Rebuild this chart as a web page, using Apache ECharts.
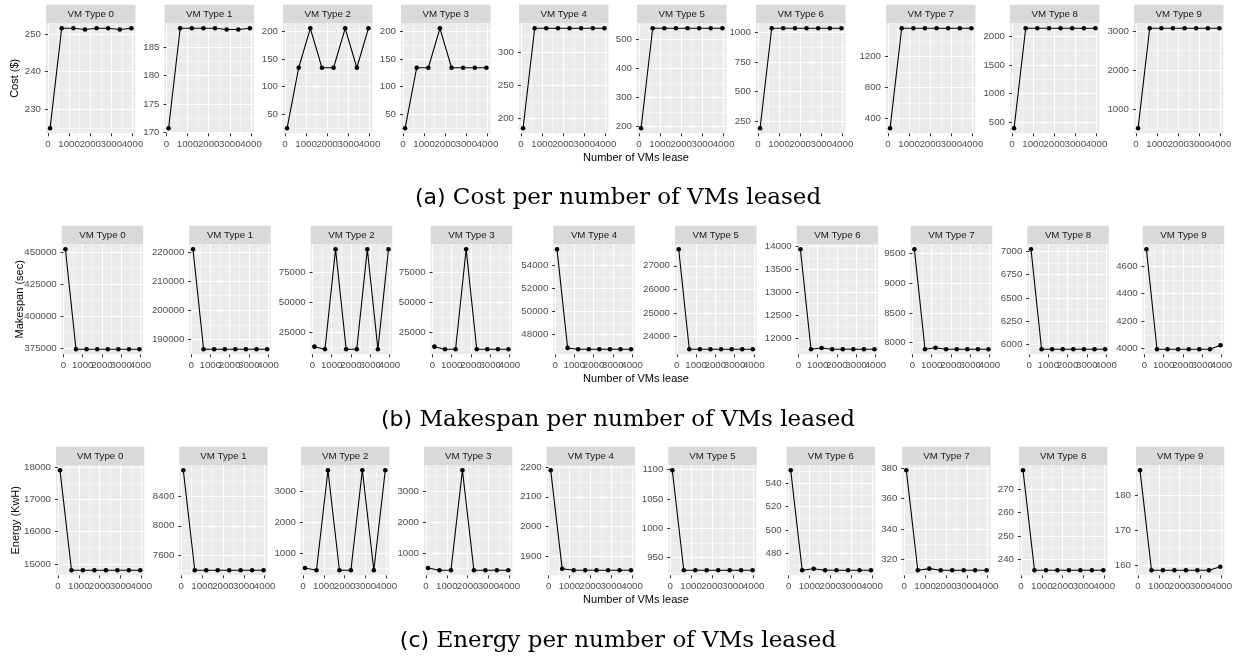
<!DOCTYPE html>
<html>
<head>
<meta charset="utf-8">
<script src="https://cdn.jsdelivr.net/npm/echarts@6/dist/echarts.min.js"></script>
<style>
  html, body { margin: 0; padding: 0; background: #fff; }
  #chart { width: 1239px; height: 660px; }
</style>
</head>
<body>
<div id="chart"></div>
<script>
// number of VMs leased (x of every panel)
const vmCounts = [100, 650, 1200, 1750, 2300, 2850, 3400, 3950];
const xTicks = [0, 1000, 2000, 3000, 4000];
const vmTypes = ['VM Type 0', 'VM Type 1', 'VM Type 2', 'VM Type 3', 'VM Type 4',
                 'VM Type 5', 'VM Type 6', 'VM Type 7', 'VM Type 8', 'VM Type 9'];

// (a) cost ($), one list per VM type
const costValues = [
  [224.9, 251.5, 251.5, 251.2, 251.5, 251.5, 251.2, 251.5],
  [170.7, 188.3, 188.3, 188.3, 188.3, 188.1, 188.1, 188.3],
  [25, 134, 205, 134, 134, 205, 134, 205],
  [25, 134, 134, 205, 134, 134, 134, 134],
  [185, 336.5, 336.5, 336.5, 336.5, 336.5, 336.5, 336.5],
  [193, 538, 538, 538, 538, 538, 538, 538],
  [191, 1034, 1034, 1034, 1034, 1034, 1034, 1034],
  [271, 1561, 1561, 1561, 1561, 1561, 1561, 1561],
  [395, 2139, 2139, 2139, 2139, 2139, 2139, 2139],
  [524, 3069, 3069, 3069, 3069, 3069, 3069, 3069],
];
const costTicks = [
  [230, 240, 250], [170, 175, 180, 185], [50, 100, 150, 200], [50, 100, 150, 200],
  [200, 250, 300], [200, 300, 400, 500], [250, 500, 750, 1000], [400, 800, 1200],
  [500, 1000, 1500, 2000], [1000, 2000, 3000],
];

// (b) makespan (sec)
const makespanValues = [
  [452300, 374200, 374200, 374200, 374200, 374200, 374200, 374200],
  [220900, 186600, 186600, 186600, 186600, 186600, 186600, 186600],
  [12900, 10700, 94500, 10700, 10700, 94500, 10700, 94500],
  [12900, 10700, 10700, 94500, 10700, 10700, 10700, 10700],
  [55400, 46820, 46700, 46700, 46700, 46700, 46700, 46700],
  [27700, 23450, 23450, 23450, 23450, 23450, 23450, 23450],
  [13935, 11757, 11785, 11757, 11757, 11757, 11757, 11757],
  [9572, 7888, 7915, 7888, 7888, 7888, 7888, 7888],
  [7025, 5943, 5943, 5943, 5943, 5943, 5943, 5943],
  [4724, 3995, 3995, 3995, 3995, 3995, 3995, 4024],
];
const makespanTicks = [
  [375000, 400000, 425000, 450000], [190000, 200000, 210000, 220000],
  [25000, 50000, 75000], [25000, 50000, 75000], [48000, 50000, 52000, 54000],
  [24000, 25000, 26000, 27000], [12000, 12500, 13000, 13500, 14000],
  [8000, 8500, 9000, 9500], [6000, 6250, 6500, 6750, 7000], [4000, 4200, 4400, 4600],
];

// (c) energy (KwH)
const energyValues = [
  [17910, 14800, 14800, 14800, 14800, 14800, 14800, 14800],
  [8752, 7396, 7396, 7396, 7396, 7396, 7396, 7396],
  [513, 438, 3670, 438, 438, 3670, 438, 3670],
  [513, 438, 438, 3670, 438, 438, 438, 438],
  [2189, 1858, 1853, 1853, 1853, 1853, 1853, 1853],
  [1099, 928, 928, 928, 928, 928, 928, 928],
  [551, 465.7, 467, 465.7, 465.7, 465.7, 465.7, 465.7],
  [378.5, 312.8, 313.9, 312.8, 312.8, 312.8, 312.8, 312.8],
  [278, 235.4, 235.4, 235.4, 235.4, 235.4, 235.4, 235.4],
  [187, 158.6, 158.6, 158.6, 158.6, 158.6, 158.6, 159.6],
];
const energyTicks = [
  [15000, 16000, 17000, 18000], [7600, 8000, 8400], [1000, 2000, 3000], [1000, 2000, 3000],
  [1900, 2000, 2100, 2200], [950, 1000, 1050, 1100], [480, 500, 520, 540],
  [320, 340, 360, 380], [240, 250, 260, 270], [160, 170, 180],
];

const STRIP_H = 18.5;
const PLOT_H = 110;
const AXIS_FONT = 'Liberation Sans';
const X_LABEL_GAP = 6;
const Y_LABEL_GAP = 5;

const rows = [
  {
    values: costValues, ticks: costTicks, yTitle: 'Cost ($)', yTitleX: 15,
    tag: '(a)', caption: ' Cost per number of VMs leased', captionY: 198,
    stripTop: 4.8, width: 89.5,
    lefts: [46, 164.5, 283, 401, 519, 637, 756, 886, 1010, 1134],
  },
  {
    values: makespanValues, ticks: makespanTicks, yTitle: 'Makespan (sec)', yTitleX: 19.5,
    tag: '(b)', caption: ' Makespan per number of VMs leased', captionY: 420,
    stripTop: 225.8, width: 81.5,
    lefts: [61.7, 189.3, 310.7, 430.7, 553.3, 675, 796.7, 910.7, 1027.3, 1142.7],
  },
  {
    values: energyValues, ticks: energyTicks, yTitle: 'Energy (KwH)', yTitleX: 16,
    tag: '(c)', caption: ' Energy per number of VMs leased', captionY: 641,
    stripTop: 446.8, width: 88.3,
    lefts: [56, 179.3, 301, 424, 546.7, 668.3, 786.7, 902.3, 1019, 1136],
  },
];

// ggplot-like minor breaks: midpoints between majors, kept inside the range
function minorBreaks(major, lo, hi) {
  const step = major[1] - major[0];
  const ext = [major[0] - step, ...major, major[major.length - 1] + step];
  const out = [];
  for (let k = 0; k < ext.length - 1; k++) {
    const m = (ext[k] + ext[k + 1]) / 2;
    if (m > lo && m < hi) out.push(m);
  }
  return out;
}

function expand(vals) {
  const lo = Math.min(...vals), hi = Math.max(...vals);
  const pad = (hi - lo) * 0.05;
  return [lo - pad, hi + pad];
}

const plain = v => String(v);

function labelStyle(values, gap) {
  return {
    show: true, customValues: values, formatter: plain, color: '#4D4D4D',
    fontSize: 9.7, fontFamily: AXIS_FONT, margin: gap,
    showMinLabel: true, showMaxLabel: true, hideOverlap: false,
  };
}

function majorAxis(g, min, max, ticks, labels, pos, gap) {
  return {
    type: 'value', gridIndex: g, min, max, position: pos,
    axisLine: { show: false },
    axisTick: { show: true, length: 3, customValues: ticks, lineStyle: { color: '#333333', width: 1 } },
    axisLabel: labelStyle(labels, gap),
    splitLine: { show: true, lineStyle: { color: '#FFFFFF', width: 1.1 } },
  };
}

function minorAxis(g, min, max, ticks, pos) {
  return {
    type: 'value', gridIndex: g, min, max, position: pos,
    axisLine: { show: false },
    axisTick: { show: false, customValues: ticks },
    axisLabel: { show: false },
    splitLine: { show: true, lineStyle: { color: '#FFFFFF', width: 0.5 } },
  };
}

// the x labels run into each other, so the odd ones sit on a second bottom axis
function labelOnlyAxis(g, min, max, labels, pos, gap) {
  return {
    type: 'value', gridIndex: g, min, max, position: pos, offset: 0,
    axisLine: { show: false },
    axisTick: { show: false, customValues: labels },
    axisLabel: labelStyle(labels, gap),
    splitLine: { show: false },
  };
}

const grids = [], xAxes = [], yAxes = [], series = [], graphics = [];
const [xMin, xMax] = expand(vmCounts);
const xMinor = minorBreaks(xTicks, xMin, xMax);
const xEvenLabels = xTicks.filter((v, k) => k % 2 === 0);
const xOddLabels = xTicks.filter((v, k) => k % 2 === 1);

rows.forEach(row => {
  const plotTop = row.stripTop + STRIP_H;
  row.values.forEach((vals, i) => {
    const g = grids.length;
    const left = row.lefts[i];
    grids.push({
      left, top: plotTop, width: row.width, height: PLOT_H,
      show: true, backgroundColor: '#EBEBEB', borderWidth: 0,
      containLabel: false, outerBoundsMode: 'none',
    });
    const [yMin, yMax] = expand(vals);
    const ticks = row.ticks[i];
    xAxes.push(majorAxis(g, xMin, xMax, xTicks, xEvenLabels, 'bottom', X_LABEL_GAP));
    xAxes.push(minorAxis(g, xMin, xMax, xMinor, 'top'));
    xAxes.push(labelOnlyAxis(g, xMin, xMax, xOddLabels, 'bottom', X_LABEL_GAP));
    yAxes.push(majorAxis(g, yMin, yMax, ticks, ticks, 'left', Y_LABEL_GAP));
    yAxes.push(minorAxis(g, yMin, yMax, minorBreaks(ticks, yMin, yMax), 'right'));
    series.push({
      type: 'line', xAxisIndex: 3 * g, yAxisIndex: 2 * g,
      data: vmCounts.map((x, k) => [x, vals[k]]),
      symbol: 'circle', symbolSize: 4.6, showSymbol: true,
      lineStyle: { color: '#000000', width: 1.1 },
      itemStyle: { color: '#000000' },
      silent: true, z: 3,
    });
    // facet strip
    graphics.push({
      type: 'rect', silent: true,
      shape: { x: left, y: row.stripTop, width: row.width, height: STRIP_H },
      style: { fill: '#D9D9D9' },
    });
    graphics.push({
      type: 'text', silent: true,
      x: left + row.width / 2, y: row.stripTop + STRIP_H / 2 + 0.5,
      style: {
        text: vmTypes[i], fill: '#1A1A1A', fontSize: 9.7, fontFamily: AXIS_FONT,
        align: 'center', verticalAlign: 'middle', textAlign: 'center', textVerticalAlign: 'middle',
      },
    });
  });

  // y axis title
  graphics.push({
    type: 'text', silent: true, rotation: Math.PI / 2,
    x: row.yTitleX, y: plotTop + PLOT_H / 2,
    style: {
      text: row.yTitle, fill: '#000000', fontSize: 11, fontFamily: AXIS_FONT,
      align: 'center', verticalAlign: 'middle', textAlign: 'center', textVerticalAlign: 'middle',
    },
  });
  // x axis title
  graphics.push({
    type: 'text', silent: true,
    x: 636, y: plotTop + PLOT_H + 25,
    style: {
      text: 'Number of VMs lease', fill: '#000000', fontSize: 11, fontFamily: AXIS_FONT,
      align: 'center', verticalAlign: 'middle', textAlign: 'center', textVerticalAlign: 'middle',
    },
  });
  // sub-figure caption
  graphics.push({
    type: 'text', silent: true,
    x: 618, y: row.captionY,
    style: {
      text: '{s|' + row.tag + '}{t|' + row.caption + '}',
      fill: '#000000',
      align: 'center', verticalAlign: 'middle', textAlign: 'center', textVerticalAlign: 'middle',
      rich: {
        s: { fontFamily: 'DejaVu Sans', fontSize: 22, fill: '#000000' },
        t: { fontFamily: 'DejaVu Serif', fontSize: 23, fill: '#000000' },
      },
    },
  });
});

const chart = echarts.init(document.getElementById('chart'), null, { renderer: 'canvas' });
chart.setOption({
  animation: false,
  backgroundColor: '#FFFFFF',
  textStyle: { fontFamily: AXIS_FONT },
  grid: grids,
  xAxis: xAxes,
  yAxis: yAxes,
  series: series,
  graphic: { elements: graphics },
});
</script>
</body>
</html>
